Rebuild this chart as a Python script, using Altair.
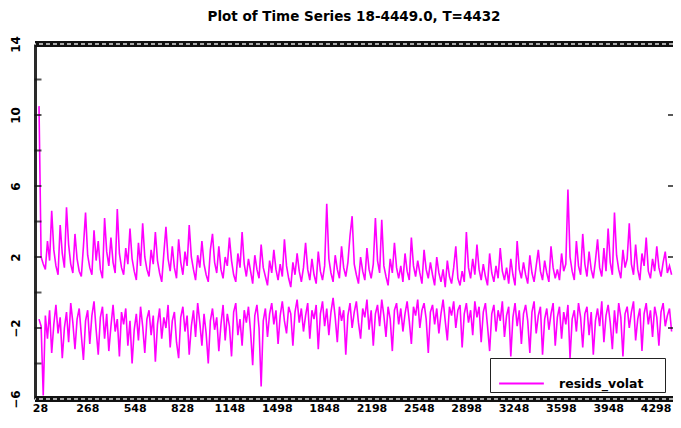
import altair as alt
import pandas as pd

TITLE = "Plot of Time Series 18-4449.0, T=4432"
SERIES = "resids_volat"
T_START = 28
T_STEP = 14.79

UPPER = [
    10.5, 2.0, 1.6, 1.3, 2.9, 1.8, 4.6, 2.4, 1.5, 1.0,
    3.8, 2.2, 1.4, 4.8, 2.7, 1.6, 1.1, 3.3, 1.9, 1.2,
    0.9, 2.6, 4.5, 2.1, 1.4, 1.0, 3.5, 1.8, 2.9, 1.3,
    0.8, 4.2, 2.3, 1.5, 3.1, 1.7, 1.1, 4.7, 2.2, 1.4,
    1.0, 2.5, 1.6, 3.6, 1.9, 1.2, 0.7, 2.8, 1.5, 3.9,
    2.0, 1.3, 0.9, 2.4, 1.6, 3.4, 1.8, 1.1, 0.6, 2.2,
    3.7, 1.9, 1.2, 2.6, 1.4, 0.8, 3.0, 1.7, 1.0, 2.3,
    1.5, 3.8, 2.0, 1.3, 0.7, 2.1, 1.4, 2.9, 1.6, 1.0,
    0.6, 2.4, 3.3, 1.7, 1.1, 2.6, 1.3, 0.8, 2.0, 1.5,
    3.1, 1.8, 1.0, 0.6, 2.2, 1.4, 3.4, 1.6, 0.9, 1.9,
    1.2, 0.5, 2.1, 1.3, 0.8, 2.7, 1.4, 0.9, 0.4, 1.8,
    1.1, 2.4, 1.3, 0.7, 1.6, 0.9, 3.0, 1.5, 0.8, 0.3,
    1.7, 1.0, 2.2, 1.2, 0.6, 1.4, 2.8, 1.3, 0.7, 1.9,
    1.0, 0.5, 2.3, 1.2, 0.7, 1.5, 5.0, 1.9, 1.1, 0.6,
    2.1, 1.3, 0.8, 2.6, 1.4, 0.9, 1.7, 3.2, 4.3, 1.6,
    1.0, 0.5, 2.0, 1.2, 0.7, 2.5, 1.3, 0.8, 1.6, 4.2,
    1.8, 1.1, 4.1, 1.5, 0.9, 0.4, 1.9, 1.1, 2.8, 1.4,
    0.8, 1.5, 0.6, 2.2, 1.2, 0.7, 3.1, 1.5, 0.9, 1.8,
    1.1, 0.5, 2.4, 1.3, 0.8, 1.7, 1.0, 0.4, 2.0, 1.1,
    0.6, 1.3, 0.3, 1.8, 0.9, 0.5, 1.4, 2.6, 0.8, 0.4,
    1.2, 0.6, 3.4, 1.4, 0.8, 1.9, 1.0, 2.7, 1.3, 0.7,
    1.6, 0.9, 0.4, 2.2, 1.1, 0.6, 1.5, 0.8, 2.5, 1.2,
    0.7, 1.4, 0.5, 1.9, 1.0, 0.4, 2.9, 1.3, 0.8, 1.7,
    1.0, 0.5, 2.1, 1.1, 0.6, 1.5, 2.4, 1.2, 0.7, 1.8,
    1.1, 0.6, 2.6, 1.4, 0.8, 1.3, 0.7, 2.2, 1.2, 1.6,
    5.8, 2.0, 1.2, 0.7, 2.9, 1.5, 1.0, 3.3, 1.6, 0.9,
    2.3, 1.3, 0.8, 1.8, 3.0, 1.4, 0.9, 2.5, 1.2, 3.6,
    1.7, 1.0, 4.5, 2.1, 1.3, 0.8, 2.4, 1.4, 1.9, 3.9,
    1.6, 1.0, 2.7, 1.3, 0.7, 2.2, 1.5, 3.1, 1.2, 0.8,
    1.9, 1.2, 2.6, 1.4, 0.9, 1.7, 2.3, 1.1, 1.5, 1.0,
]

LOWER = [
    -1.5, -1.9, -5.8, -1.3, -2.6, -1.0, -3.4, -1.8, -0.7, -2.3,
    -1.4, -3.7, -2.0, -1.1, -2.8, -0.6, -1.7, -3.2, -1.5, -0.9,
    -2.4, -3.8, -1.6, -1.0, -2.9, -1.3, -0.5, -2.1, -3.5, -1.4,
    -0.8, -2.6, -1.2, -3.3, -1.9, -0.7, -2.2, -1.5, -3.6, -1.1,
    -1.8, -0.9, -3.0, -1.6, -4.0, -2.1, -1.2, -2.7, -0.8, -1.9,
    -3.4, -1.5, -1.0, -2.4, -1.3, -3.9, -1.8, -0.9, -2.6, -1.4,
    -2.0, -0.7, -3.1, -1.6, -1.1, -2.8, -3.7, -1.4, -0.8, -2.2,
    -1.3, -3.5, -1.9, -1.0, -2.5, -0.6, -1.7, -3.0, -1.2, -2.3,
    -4.0, -1.6, -0.9, -2.1, -1.4, -3.3, -1.8, -0.7, -2.7, -1.2,
    -1.9, -3.6, -1.1, -0.6, -2.4, -1.5, -3.0, -1.0, -1.7, -0.8,
    -2.2, -4.1, -1.3, -0.7, -2.0, -5.3, -1.6, -0.9, -2.5, -1.2,
    -0.6, -1.8, -1.0, -2.9, -1.3, -0.5, -1.6, -2.3, -0.8, -1.2,
    -3.0, -1.1, -0.4, -1.7, -0.9, -2.2, -1.3, -0.6, -2.6, -1.0,
    -1.5, -0.7, -3.2, -1.2, -0.5, -1.9, -0.9, -2.4, -1.1, -0.3,
    -1.4, -2.8, -0.8, -1.6, -1.0, -3.5, -1.3, -0.6, -2.0, -1.1,
    -0.5, -1.7, -2.6, -0.9, -1.4, -0.4, -2.1, -1.0, -3.0, -1.2,
    -0.7, -1.9, -0.4, -1.3, -2.5, -0.8, -1.5, -3.3, -1.0, -0.6,
    -1.8, -0.9, -2.2, -1.2, -0.5, -1.6, -2.9, -0.8, -1.3, -0.4,
    -2.0, -1.0, -0.6, -1.5, -3.4, -1.1, -0.7, -1.8, -0.9, -2.3,
    -1.2, -0.4, -1.6, -2.7, -0.8, -1.3, -0.5, -2.0, -1.0, -0.7,
    -3.1, -1.2, -0.6, -1.7, -1.0, -2.4, -0.5, -1.4, -0.8, -2.8,
    -1.1, -0.6, -1.9, -3.3, -1.2, -0.7, -2.2, -1.0, -1.6, -0.5,
    -2.5, -1.3, -0.8, -3.6, -1.4, -0.6, -1.9, -1.0, -2.9, -1.2,
    -0.7, -1.6, -3.4, -1.1, -0.5, -2.3, -1.3, -0.8, -3.5, -1.5,
    -0.9, -2.1, -1.2, -0.6, -3.0, -1.4, -0.8, -2.6, -1.1, -1.8,
    -0.7, -3.7, -1.5, -1.0, -2.2, -0.6, -1.4, -3.1, -1.2, -0.8,
    -2.4, -1.1, -3.5, -1.6, -0.9, -1.9, -0.5, -2.8, -1.3, -0.7,
    -1.7, -3.2, -1.0, -2.3, -0.6, -1.4, -3.6, -1.2, -0.8, -2.0,
    -1.1, -0.5, -2.7, -1.5, -0.9, -3.3, -1.2, -0.6, -1.8, -1.0,
    -2.5, -0.8, -1.4, -3.0, -1.1, -0.6, -1.9, -1.3, -0.9, -2.2,
]

X_LABELS = ["28", "268", "548", "828", "1148", "1498", "1848", "2198",
            "2548", "2898", "3248", "3598", "3948", "4298"]
X_TICK0 = 35
X_TICKSTEP = 331
Y_LABELS = [-6, -2, 2, 6, 10, 14]
Y_MINOR = [-4, -2, 0, 2, 4, 6, 8, 10, 12]
Y_RIGHT = [-2, 2, 6, 10]
BORDERS = [-6, 14]

rows = []
for band, vals in (("upper", UPPER), ("lower", LOWER)):
    for i, v in enumerate(vals):
        rows.append({"t": T_START + i * T_STEP, "v": v, "band": band, "series": SERIES})
df = pd.DataFrame(rows)

W, H = 638, 355
FONT = "DejaVu Sans"

xscale = alt.Scale(domain=[0, 4460], nice=False, zero=False)
yscale = alt.Scale(domain=[-6, 14], nice=False, zero=False)

tick_vals = [X_TICK0 + k * X_TICKSTEP for k in range(len(X_LABELS))]
label_arr = "[" + ",".join("'" + s + "'" for s in X_LABELS) + "]"
label_expr = f"{label_arr}[round((datum.value - {X_TICK0}) / {X_TICKSTEP})]"

lines = alt.Chart(df).mark_line(strokeWidth=1.6, clip=True).encode(
    x=alt.X("t:Q", scale=xscale, axis=alt.Axis(
        values=tick_vals, labelExpr=label_expr, title=None, domain=False,
        ticks=False, grid=False, labelPadding=3, labelFontSize=11,
        labelFont=FONT, labelFontWeight="bold", labelColor="black",
        labelFlush=False, labelOverlap=False)),
    y=alt.Y("v:Q", scale=yscale, axis=alt.Axis(
        values=Y_LABELS, title=None, grid=False, ticks=False,
        domainWidth=3, domainColor="#2a2a2a", labelAngle=270,
        labelAlign="center", labelBaseline="bottom", labelPadding=13,
        labelFontSize=12, labelFont=FONT, labelFontWeight="bold",
        labelColor="black", labelOverlap=False)),
    color=alt.Color("series:N", scale=alt.Scale(domain=[SERIES], range=["#ff00ff"]),
                    legend=alt.Legend(
                        orient="none", legendX=455, legendY=314, title=None,
                        symbolType="stroke", symbolSize=2000, symbolStrokeWidth=2,
                        symbolOffset=6,
                        strokeColor="#222", fillColor="white", padding=2,
                        labelFont=FONT, labelFontWeight="bold", labelFontSize=12.5,
                        labelOffset=14, labelColor="black", labelLimit=300,
                        labelExpr="datum.label + '\u2800\u2800'")),
    detail="band:N",
)

bdf = pd.DataFrame({"y": BORDERS})
border_black = alt.Chart(bdf).mark_rule(color="#111", strokeWidth=6).encode(
    y=alt.Y("y:Q", scale=yscale))
border_dash = alt.Chart(bdf).mark_rule(color="#dddddd", strokeWidth=1.5,
                                       strokeDash=[4, 3]).encode(
    y=alt.Y("y:Q", scale=yscale))

ticks_left = alt.Chart(pd.DataFrame({"y": Y_MINOR})).mark_tick(
    color="#111", thickness=2, size=7, orient="horizontal").encode(
    y=alt.Y("y:Q", scale=yscale), x=alt.value(3))
ticks_right = alt.Chart(pd.DataFrame({"y": Y_RIGHT})).mark_tick(
    color="#111", thickness=2, size=6, orient="horizontal").encode(
    y=alt.Y("y:Q", scale=yscale), x=alt.value(W - 2))

chart = alt.layer(lines, border_black, border_dash, ticks_left, ticks_right).properties(
    width=W, height=H,
    title=alt.TitleParams(TITLE, font=FONT, fontSize=13.5, fontWeight="bold",
                          color="black", offset=12, anchor="middle"),
    autosize=alt.AutoSizeParams(type="none"),
    padding={"left": 27, "top": 36, "right": 0, "bottom": 17},
).configure_view(stroke=None)

chart.save("out.html", embed_options={"renderer": "svg", "actions": False})
